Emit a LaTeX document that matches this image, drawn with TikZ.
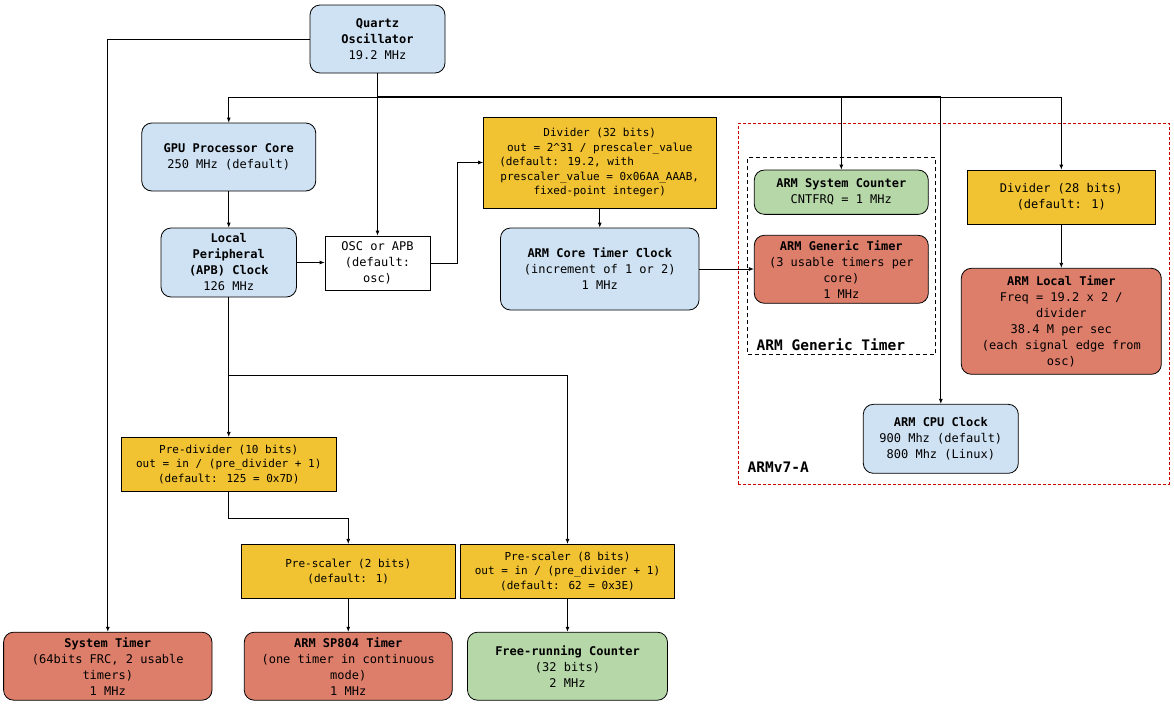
\documentclass[tikz,border=0pt]{standalone}
\usepackage{fontspec}
\setmainfont{DejaVu Sans Mono}
\usetikzlibrary{arrows.meta}
\definecolor{cblue}{HTML}{CFE2F3}
\definecolor{cyellow}{HTML}{F1C232}
\definecolor{cred}{HTML}{DD7E6B}
\definecolor{cgreen}{HTML}{B6D7A8}
\definecolor{cdash}{HTML}{CC0000}
\begin{document}
\begin{tikzpicture}[x=1pt,y=-1pt,
  box/.style={draw=black, line width=0.8pt, inner sep=1pt, align=center, font=\fontsize{12}{16}\selectfont},
  rbox/.style={box, rounded corners=10pt},
  bluebox/.style={rbox, fill=cblue},
  redbox/.style={rbox, fill=cred},
  greenbox/.style={rbox, fill=cgreen},
  yellowbox/.style={box, fill=cyellow},
  smalltext/.style={font=\fontsize{11}{14.5}\selectfont},
  conn/.style={draw, line width=0.8pt, -{Latex[length=5pt,width=4pt]}},
  grouplabel/.style={anchor=west, inner sep=0pt, font=\bfseries\fontsize{14.5}{16}\selectfont}
]
\useasboundingbox (0,0) rectangle (1174,707);

% group frames
\node[draw=cdash, line width=0.7pt, dash pattern=on 3pt off 2pt, minimum width=430.7pt, minimum height=361pt, inner sep=0pt] (armv7) at (953.65,303.8) {};
\node[draw=black, line width=0.7pt, dash pattern=on 4pt off 3pt, minimum width=188pt, minimum height=196.6pt, inner sep=0pt] (gtgroup) at (841.7,256) {};
\node[grouplabel] (lgt) at (756.5,345) {ARM Generic Timer};
\node[grouplabel] (larm) at (747.5,467) {ARMv7-A};

% nodes
\node[bluebox, minimum width=135pt, minimum height=68pt] (q) at (377.5,39) {\textbf{Quartz}\\\textbf{Oscillator}\\19.2 MHz};
\node[bluebox, minimum width=174pt, minimum height=68pt] (gpu) at (228.75,157) {\textbf{GPU Processor Core}\\250 MHz (default)};
\node[bluebox, minimum width=135.5pt, minimum height=69pt] (lp) at (228.75,262.5) {\textbf{Local}\\\textbf{Peripheral}\\\textbf{(APB) Clock}\\126 MHz};
\node[box, fill=white, minimum width=105pt, minimum height=54pt] (osc) at (377.5,263) {OSC or APB\\(default:\\osc)};
\node[yellowbox, smalltext, minimum width=232.5pt, minimum height=91pt] (div32) at (599.75,162.5) {Divider (32 bits)\\out = 2\textasciicircum{}31 / prescaler\_value\\(default: 19.2, with\hphantom{0000000000}\\prescaler\_value = 0x06AA\_AAAB,\\fixed-point integer)};
\node[bluebox, minimum width=198.5pt, minimum height=82pt] (core) at (599.75,269) {\textbf{ARM Core Timer Clock}\\(increment of 1 or 2)\\1 MHz};
\node[greenbox, minimum width=174pt, minimum height=44.3pt] (sc) at (841.3,192.2) {\textbf{ARM System Counter}\\CNTFRQ = 1 MHz};
\node[redbox, minimum width=174pt, minimum height=68pt] (gt) at (841.3,269.3) {\textbf{ARM Generic Timer}\\(3 usable timers per\\core)\\1 MHz};
\node[yellowbox, minimum width=188pt, minimum height=54.3pt] (div28) at (1061.3,197.2) {Divider (28 bits)\\(default: 1)};
\node[redbox, minimum width=200pt, minimum height=106pt] (lt) at (1061.3,321.3) {\textbf{ARM Local Timer}\\Freq = 19.2 x 2 /\\divider\\38.4 M per sec\\(each signal edge from\\osc)};
\node[bluebox, minimum width=155pt, minimum height=69pt] (cpu) at (940.8,438.8) {\textbf{ARM CPU Clock}\\900 Mhz (default)\\800 Mhz (Linux)};
\node[yellowbox, smalltext, minimum width=214.3pt, minimum height=54pt] (pd) at (228.75,464.3) {Pre-divider (10 bits)\\out = in / (pre\_divider + 1)\\(default: 125 = 0x7D)};
\node[yellowbox, smalltext, minimum width=213.5pt, minimum height=54pt] (ps2) at (348.25,571.3) {Pre-scaler (2 bits)\\(default: 1)};
\node[yellowbox, smalltext, minimum width=214.3pt, minimum height=54pt] (ps8) at (567.5,571.3) {Pre-scaler (8 bits)\\out = in / (pre\_divider + 1)\\(default: 62 = 0x3E)};
\node[redbox, minimum width=208.4pt, minimum height=68pt] (st) at (107.8,666.2) {\textbf{System Timer}\\(64bits FRC, 2 usable\\timers)\\1 MHz};
\node[redbox, minimum width=208pt, minimum height=68pt] (sp) at (348.25,666.2) {\textbf{ARM SP804 Timer}\\(one timer in continuous\\mode)\\1 MHz};
\node[greenbox, minimum width=200pt, minimum height=68pt] (frc) at (567.5,666.2) {\textbf{Free-running Counter}\\(32 bits)\\2 MHz};

% junction points
\coordinate (j) at (377.5,97);
\coordinate (jend) at (940.8,97);
\coordinate (b) at (228.75,375);

% connectors
\draw[conn] (q.west) -| (st.north);
\draw[line width=0.8pt] (q.south) -- (j);
\draw[line width=1.6pt] (j) -- (jend);
\draw[conn] (j) -| (gpu.north);
\draw[conn] (j) -- (osc.north);
\draw[conn] (j) -| (sc.north);
\draw[conn] (j) -| (cpu.north);
\draw[conn] (j) -| (div28.north);
\draw[conn] (gpu.south) -- (lp.north);
\draw[conn] (lp.east) -- (lp.east -| osc.west);
\draw[conn] (osc.east) -- ++(27,0) |- (div32.west);
\draw[conn] (div32.south) -- (core.north);
\draw[conn] (core.east) -- (core.east -| gt.west);
\draw[conn] (div28.south) -- (lt.north);
\draw[conn] (lp.south) -- (pd.north);
\draw[conn] (b) -| (ps8.north);
\draw[conn] (pd.south) -- ++(0,27) -| (ps2.north);
\draw[conn] (ps2.south) -- (sp.north);
\draw[conn] (ps8.south) -- (frc.north);
\end{tikzpicture}
\end{document}
